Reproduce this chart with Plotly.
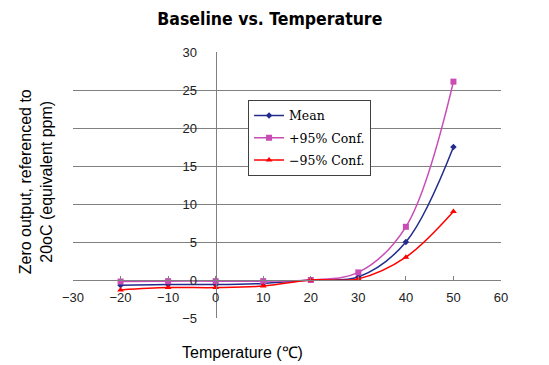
import plotly.graph_objects as go

temps = [-20, -10, 0, 10, 20, 30, 40, 50]
mean = [-0.7, -0.6, -0.6, -0.45, 0, 0.4, 5.0, 17.5]
plus95 = [-0.2, -0.15, -0.15, -0.15, 0, 1.0, 7.0, 26.1]
minus95 = [-1.3, -1.0, -1.0, -0.8, 0, 0.15, 3.0, 9.0]

x_ticks = [-30, -20, -10, 0, 10, 20, 30, 40, 50, 60]
y_ticks = [-5, 0, 5, 10, 15, 20, 25, 30]

fig = go.Figure()
fig.add_trace(go.Scatter(x=temps, y=mean, name="Mean", mode="lines+markers", legendgroup="a",
                         line=dict(color="#232C8C", width=1.5, shape="spline"),
                         marker=dict(symbol="diamond", size=5, color="#232C8C")))
fig.add_trace(go.Scatter(x=temps, y=plus95, name="+95% Conf.", mode="lines+markers", legendgroup="b",
                         line=dict(color="#C94BB5", width=1.5, shape="spline"),
                         marker=dict(symbol="square", size=6, color="#C94BB5")))
fig.add_trace(go.Scatter(x=temps, y=minus95, name="\u221295% Conf.", mode="lines+markers", legendgroup="c",
                         line=dict(color="#FF0000", width=1.5, shape="spline"),
                         marker=dict(symbol="triangle-up", size=6, color="#FF0000")))

fig.update_layout(
    width=541, height=357,
    margin=dict(l=65, r=48, t=44, b=47),
    paper_bgcolor="white", plot_bgcolor="white",
    showlegend=True,
    legend=dict(x=0.409, y=0.82, xanchor="left", yanchor="top",
                bgcolor="white", bordercolor="#404040", borderwidth=1,
                font=dict(family="DejaVu Serif, Liberation Serif, serif", size=12.5, color="black"),
                itemwidth=30, tracegroupgap=3, traceorder="grouped"),
    title=dict(text="<b>Baseline vs. Temperature</b>", x=0.484, xanchor="center", y=0.969, yanchor="middle",
               font=dict(family="DejaVu Sans Condensed, Liberation Sans, Arial, sans-serif", size=17.5, color="black")),
    xaxis=dict(range=[-30, 60], tickvals=x_ticks, showgrid=False, zeroline=False,
               showline=True, linecolor="#808080", linewidth=1,
               anchor="free", position=5/35,
               ticks="inside", ticklen=4, tickcolor="#808080",
               ticklabelstandoff=5,
               tickfont=dict(family="Liberation Sans, Arial, sans-serif", size=13, color="#222")),
    yaxis=dict(range=[-5, 30], tickvals=y_ticks, showgrid=True, gridcolor="#808080", gridwidth=1,
               zeroline=False, showline=True, linecolor="#808080", linewidth=1,
               anchor="free", position=1/3,
               ticks="", ticklabelstandoff=16,
               tickfont=dict(family="Liberation Sans, Arial, sans-serif", size=13, color="#222")),
    annotations=[
        dict(text="Zero output, referenced to<br>20oC (equivalent ppm)", xref="paper", yref="paper",
             x=-0.086, y=0.511, xanchor="center", yanchor="middle", textangle=-90, showarrow=False,
             font=dict(family="Liberation Sans, Arial, sans-serif", size=16, color="black")),
        dict(text="Temperature (\u2103)", xref="paper", yref="paper",
             x=0.395, y=-0.128, xanchor="center", yanchor="middle", showarrow=False,
             font=dict(family="Liberation Sans, Arial, sans-serif", size=16, color="black")),
    ],
)

fig.write_html("out.html")
